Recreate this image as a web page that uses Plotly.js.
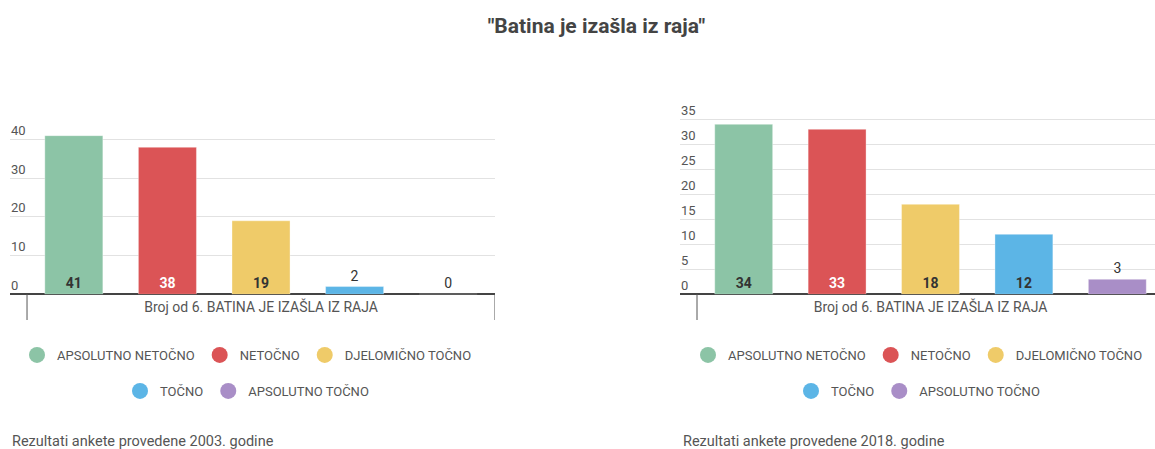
<!DOCTYPE html>
<html>
<head>
<meta charset="utf-8">
<script src="https://cdn.plot.ly/plotly-3.0.1.min.js"></script>
<style>html,body{margin:0;padding:0;background:#fff}#chart{width:1155px;height:449px}</style>
</head>
<body>
<div id="chart"></div>
<script>
// ---- data ----
const chartTitle = '"Batina je izašla iz raja"';
const groupLabel = 'Broj od 6. BATINA JE IZAŠLA IZ RAJA';
const categories = ['APSOLUTNO NETOČNO', 'NETOČNO', 'DJELOMIČNO TOČNO', 'TOČNO', 'APSOLUTNO TOČNO'];
const values2003 = [41, 38, 19, 2, 0];
const values2018 = [34, 33, 18, 12, 3];
const yTicks2003 = [0, 10, 20, 30, 40];
const yTicks2018 = [0, 5, 10, 15, 20, 25, 30, 35];
const caption2003 = 'Rezultati ankete provedene 2003. godine';
const caption2018 = 'Rezultati ankete provedene 2018. godine';

// ---- style ----
const colors = ['#8cc4a6', '#db5456', '#efcb69', '#5cb5e6', '#a98ec7'];
const insideTextColors = ['#333333', '#ffffff', '#333333', '#333333', '#333333'];
const W = 1155, H = 449;
const panels = [
  {vals: values2003, xa: 'x', ya: 'y', ymax: 50.4, legends: ['legend', 'legend2']},
  {vals: values2018, xa: 'x2', ya: 'y2', ymax: 39, legends: ['legend3', 'legend4']}
];

const traces = [];
panels.forEach(p => {
  p.vals.forEach((v, i) => {
    const inside = v / p.ymax > 0.15;
    traces.push({
      type: 'bar', x: [groupLabel], y: [v], name: categories[i],
      xaxis: p.xa, yaxis: p.ya, showlegend: false,
      marker: {color: colors[i], line: {color: 'rgba(255,255,255,0.35)', width: 1}},
      text: [String(v)], textposition: inside ? 'inside' : 'outside',
      insidetextanchor: 'start', cliponaxis: false,
      insidetextfont: {family: 'Roboto', size: 14, color: insideTextColors[i], weight: 'bold'},
      outsidetextfont: {family: 'Roboto', size: 14, color: '#333333'},
      hoverinfo: 'name+y'
    });
  });
});
// legend entries (circle symbols)
panels.forEach(p => {
  categories.forEach((c, i) => {
    traces.push({
      type: 'scatter', mode: 'markers', x: [null], y: [null], name: c,
      xaxis: p.xa, yaxis: p.ya,
      legend: i < 3 ? p.legends[0] : p.legends[1],
      marker: {color: colors[i], size: 16, symbol: 'circle'}
    });
  });
});

const yDomain = [1 - 294.3 / H, 1 - 99.3 / H];
const xBase = {
  type: 'category', showgrid: false, showline: false, zeroline: false,
  ticks: '', ticklabelstandoff: 3, tickfont: {family: 'Roboto', size: 14, color: '#555'}, fixedrange: true
};
const yBase = {
  showgrid: true, gridcolor: '#e2e2e2', gridwidth: 1,
  zeroline: true, zerolinecolor: '#444', zerolinewidth: 2, showline: false,
  ticks: '', ticklabelposition: 'inside', ticklabelshift: -9, ticklabelstandoff: -2,
  tickfont: {family: 'Roboto', size: 13, color: '#555'}, fixedrange: true, domain: yDomain
};
const legBase = {orientation: 'h', xanchor: 'center', yanchor: 'middle', itemgap: 0,
  font: {family: 'Roboto', size: 13, color: '#555'}, bgcolor: 'rgba(0,0,0,0)', itemclick: false, itemdoubleclick: false};

// category boundary lines below the baseline (group edges)
const groupIndex = 0;
const shapes = [];
['x', 'x2'].forEach(xa => {
  [groupIndex - 0.5, groupIndex + 0.5].forEach(xb => {
    shapes.push({type: 'line', xref: xa, yref: 'paper', x0: xb, x1: xb,
      y0: 1 - 294 / H, y1: 1 - 320 / H, line: {color: '#555', width: 1}});
  });
});

const layout = {
  width: W, height: H, margin: {l: 0, r: 0, t: 0, b: 0},
  paper_bgcolor: '#fff', plot_bgcolor: '#fff',
  font: {family: 'Roboto, sans-serif', color: '#555', size: 13},
  title: {text: chartTitle, x: 596.5 / W, xanchor: 'center', y: 1 - 26 / H, yanchor: 'middle',
    font: {family: 'Roboto', size: 21, weight: 'bold', color: '#444'}},
  barmode: 'group', bargap: 0, bargroupgap: 0.38,
  xaxis: Object.assign({}, xBase, {domain: [10 / W, 495 / W], range: [-0.5364, 0.5], anchor: 'y'}),
  yaxis: Object.assign({}, yBase, {range: [0, 50.4], tickvals: yTicks2003, anchor: 'x'}),
  xaxis2: Object.assign({}, xBase, {domain: [680 / W, 1], range: [-0.5364, 0.4807], anchor: 'y2'}),
  yaxis2: Object.assign({}, yBase, {range: [0, 39], tickvals: yTicks2018, anchor: 'x2'}),
  legend: Object.assign({}, legBase, {x: 247 / W, y: 1 - 355 / H}),
  legend2: Object.assign({}, legBase, {x: 247 / W, y: 1 - 391 / H}),
  legend3: Object.assign({}, legBase, {x: 918 / W, y: 1 - 355 / H}),
  legend4: Object.assign({}, legBase, {x: 918 / W, y: 1 - 391 / H}),
  shapes: shapes,
  annotations: [
    {text: caption2003, xref: 'paper', yref: 'paper', x: 10 / W, y: 1 - 441 / H, xanchor: 'left', yanchor: 'middle',
      showarrow: false, font: {family: 'Roboto', size: 14.5, color: '#555'}},
    {text: caption2018, xref: 'paper', yref: 'paper', x: 681 / W, y: 1 - 441 / H, xanchor: 'left', yanchor: 'middle',
      showarrow: false, font: {family: 'Roboto', size: 14.5, color: '#555'}}
  ],
  showlegend: true
};

Plotly.newPlot('chart', traces, layout, {displayModeBar: false, responsive: false});
</script>
</body>
</html>
